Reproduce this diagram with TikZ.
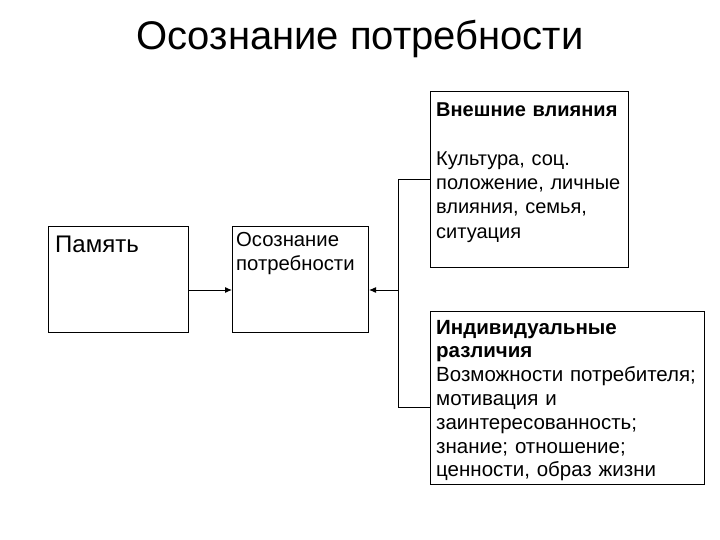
\documentclass[tikz,border=0pt]{standalone}
\usepackage{fontspec}
\setmainfont{Liberation Sans}
\usetikzlibrary{arrows.meta}
\begin{document}
\begin{tikzpicture}[x=1pt,y=-1pt,
  box/.style={draw, line width=1pt, rectangle, inner sep=0pt, anchor=north west},
  txt/.style={inner sep=0pt, anchor=base west, align=left},
  conn/.style={line width=1pt},
  arr/.style={line width=1pt, -{Latex[length=7pt,width=6pt]}}]
\useasboundingbox (0,0) rectangle (720,540);
\node[inner sep=0pt, anchor=base, font=\fontsize{40}{48}\selectfont] (title) at (360,50) {Осознание потребности};
% boxes
\node[box, minimum width=140pt, minimum height=106pt] (mem) at (48,226) {};
\node[box, minimum width=136pt, minimum height=106pt] (aw) at (232,226) {};
\node[box, minimum width=198pt, minimum height=176pt] (ext) at (430,91) {};
\node[box, minimum width=274pt, minimum height=173pt] (ind) at (430,311) {};
% texts
\node[txt, font=\fontsize{24}{28}\selectfont] (memt) at (55,252) {Память};
\node[txt, text width=130pt, font=\fontsize{20.3}{24}\selectfont] (awt) at (236,247) {Осознание\\потребности};
\node[txt, text width=195pt, font=\fontsize{20}{24.3}\selectfont] (extt) at (436,117) {\textbf{Внешние влияния}\\[24pt]Культура, соц.\\положение, личные\\влияния, семья,\\ситуация};
\node[txt, text width=270pt, font=\fontsize{20.5}{23.8}\selectfont] (indt) at (436,334) {\textbf{Индивидуальные}\\\textbf{различия}\\Возможности потребителя;\\мотивация и\\заинтересованность;\\знание; отношение;\\ценности, образ жизни};
% connectors
\coordinate (j) at (398,290);
\coordinate (j1) at (398,180);
\coordinate (j2) at (398,407);
\draw[arr] (mem.east |- j) -- (aw.west |- j);
\draw[arr] (j) -- (aw.east |- j);
\draw[conn] (ext.west |- j1) -- (j1) -- (j2) -- (ind.west |- j2);
\end{tikzpicture}
\end{document}
